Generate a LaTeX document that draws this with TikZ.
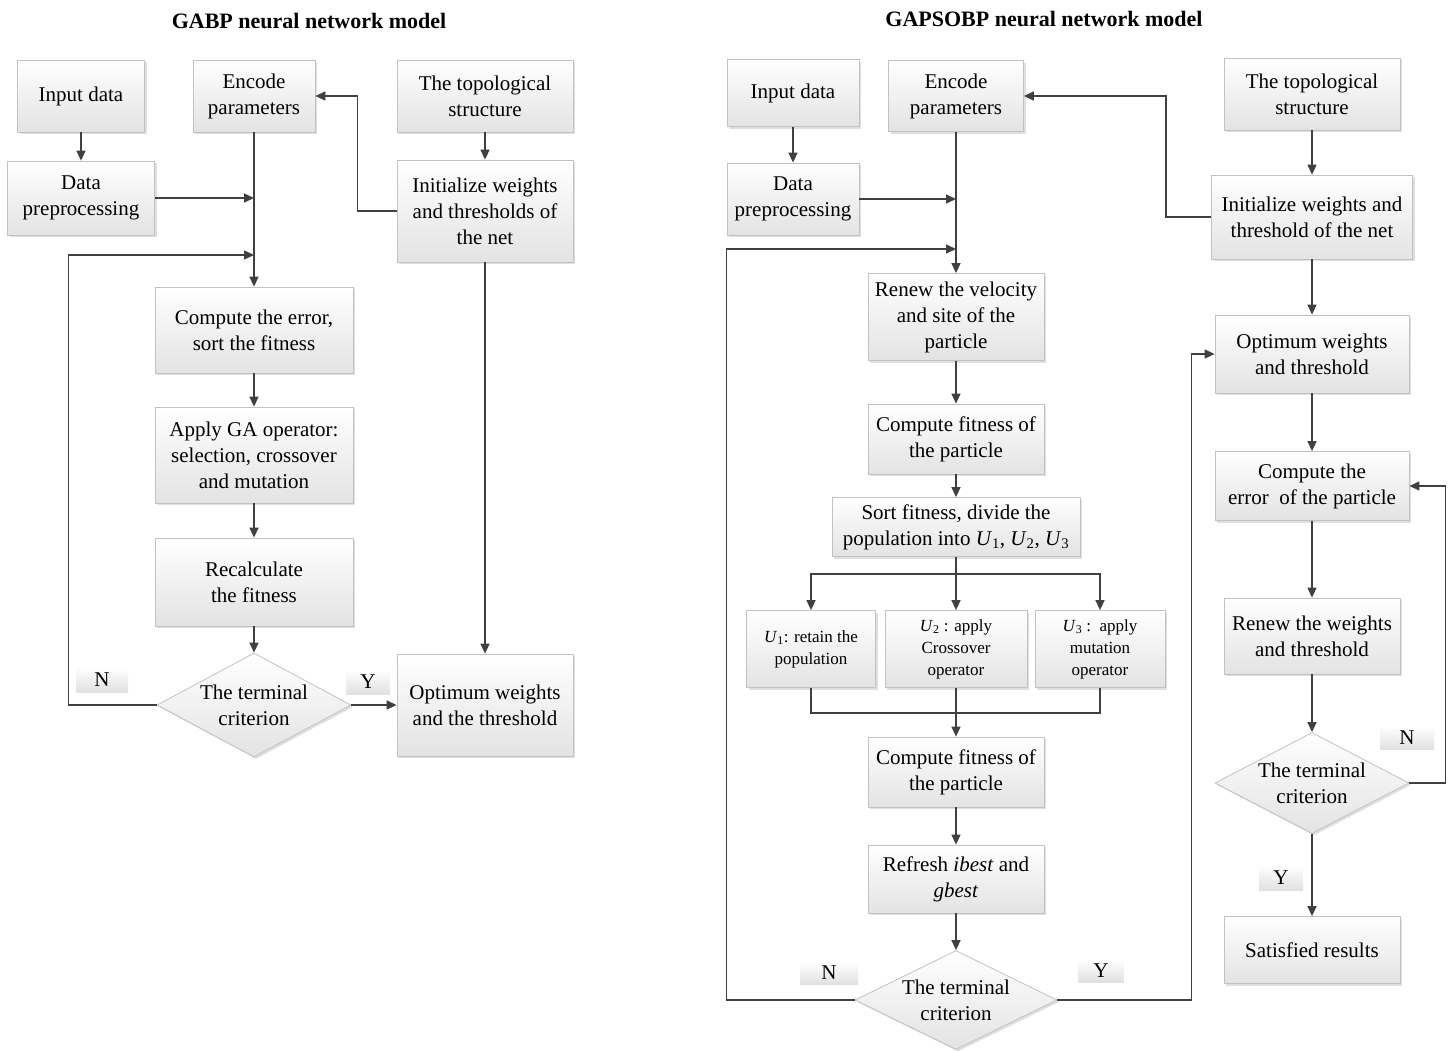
\documentclass[tikz,border=0pt]{standalone}
\usepackage{fontspec}
\setmainfont{Liberation Serif}
\usetikzlibrary{arrows.meta,shapes.geometric,shadows}
\definecolor{wire}{HTML}{404040}
\definecolor{rim}{HTML}{C2C2C2}

\begin{document}
\begin{tikzpicture}[
    x=1pt, y=-1pt,
    font=\fontsize{21}{26}\selectfont,
    box/.style={rectangle, draw=rim, line width=0.8pt,
                top color=white, bottom color=black!11,
                drop shadow={shadow xshift=2pt, shadow yshift=-2pt, fill=black!25, opacity=0.5},
                align=center, inner sep=2pt},
    dia/.style={diamond, draw=rim, line width=0.8pt,
                top color=white, bottom color=black!11,
                drop shadow={shadow xshift=2pt, shadow yshift=-2pt, fill=black!25, opacity=0.5},
                shape aspect=1.9, inner sep=-4pt, align=center},
    sz/.style 2 args={minimum width=#1pt, minimum height=#2pt},
    tag/.style={rectangle, top color=white, bottom color=black!12, inner sep=0pt},
    smalltext/.style={font=\fontsize{17}{22}\selectfont},
    title/.style={font=\fontsize{22}{26}\selectfont\bfseries},
    link/.style={wire, line width=1.5pt},
    flow/.style={-{Triangle[length=10pt,width=9pt]}, wire, line width=1.5pt},
]
\useasboundingbox (0,0) rectangle (1453,1050);

% ---- Panel A: GABP ----
\begin{scope}
    \node[title] (tA) at (309,21) {GABP neural network model};
    \node[box, sz={127}{72}] (in1) at (81,96) {Input data};
    \node[box, sz={122}{72}] (enc1) at (254,96) {Encode\\parameters};
    \node[box, sz={176}{72}] (top1) at (485,96) {The topological\\structure};
    \node[box, sz={147}{74}] (pre1) at (81,198) {Data\\preprocessing};
    \node[box, sz={176}{102}] (ini1) at (485,211) {Initialize weights\\and thresholds of\\the net};
    \node[box, sz={198}{86}] (err1) at (254,330) {Compute the error,\\sort the fitness};
    \node[box, sz={198}{96}] (ga1) at (254,455) {Apply GA operator:\\selection, crossover\\and mutation};
    \node[box, sz={198}{88}] (rec1) at (254,582) {Recalculate\\the fitness};
    \node[dia, sz={194}{104}] (end1) at (254,705) {The terminal\\criterion};
    \node[box, sz={176}{102}] (opt1) at (485,705) {Optimum weights\\and the threshold};
    \node[tag, sz={52}{25}] (n1) at (102,680) {N};
    \node[tag, sz={44}{24}] (y1) at (368,682) {Y};
    \coordinate (j1) at (254,255);
    \draw[flow] (in1) -- (pre1);
    \draw[flow] (enc1) -- (err1);
    \draw[flow] (pre1.east) -- (pre1.east -| enc1.south);
    \draw[flow] (end1.west) -- ++(-88,0) |- (j1);
    \draw[flow] (ini1.west) -- ++(-39,0) |- (enc1.east);
    \draw[flow] (top1) -- (ini1);
    \draw[flow] (ini1) -- (opt1);
    \draw[flow] (err1) -- (ga1);
    \draw[flow] (ga1) -- (rec1);
    \draw[flow] (rec1) -- (end1);
    \draw[flow] (end1) -- (opt1);
\end{scope}

% ---- Panel B: GAPSOBP ----
\begin{scope}
    \node[title] (tB) at (1044,19) {GAPSOBP neural network model};
    \node[box, sz={132}{67}] (in2) at (793,93) {Input data};
    \node[box, sz={135}{71}] (enc2) at (956,96) {Encode\\parameters};
    \node[box, sz={176}{72}] (top2) at (1312,94) {The topological\\structure};
    \node[box, sz={132}{72}] (pre2) at (793,199) {Data\\preprocessing};
    \node[box, sz={201}{84}] (ini2) at (1312,217) {Initialize weights and\\threshold of the net};
    \node[box, sz={176}{87}] (vel) at (956,317) {Renew the velocity\\and site of the\\particle};
    \node[box, sz={176}{70}] (fit2) at (956,439) {Compute fitness of\\the particle};
    \node[box, sz={248}{59}] (srt) at (956,527)
        {Sort fitness, divide the\\population into \textit{U}\textsubscript{1}, \textit{U}\textsubscript{2}, \textit{U}\textsubscript{3}};
    \node[box, smalltext, sz={129}{77}] (u1) at (811,649) {\textit{U}\textsubscript{1}: retain the\\population};
    \node[box, smalltext, sz={142}{77}] (u2) at (956,649) {\textit{U}\textsubscript{2} : apply\\Crossover\\operator};
    \node[box, smalltext, sz={130}{77}] (u3) at (1100,649) {\textit{U}\textsubscript{3} :\ \ apply\\mutation\\operator};
    \node[box, sz={176}{70}] (fit3) at (956,772) {Compute fitness of\\the particle};
    \node[box, sz={176}{68}] (ref) at (956,879) {Refresh \textit{ibest} and\\\textit{gbest}};
    \node[dia, sz={202}{99}] (end2) at (956,1000) {The terminal\\criterion};
    \node[tag, sz={58}{23}] (n2) at (829,973) {N};
    \node[tag, sz={46}{23}] (y2) at (1101,971) {Y};
    \node[box, sz={194}{78}] (opt2) at (1312,354) {Optimum weights\\and threshold};
    \node[box, sz={194}{69}] (err2) at (1312,486) {Compute the\\error~ of the particle};
    \node[box, sz={176}{76}] (upd) at (1312,636) {Renew the weights\\and threshold};
    \node[dia, sz={194}{101}] (end3) at (1312,783) {The terminal\\criterion};
    \node[tag, sz={54}{23}] (n3) at (1407,738) {N};
    \node[tag, sz={44}{25}] (y3) at (1281,878) {Y};
    \node[box, sz={176}{67}] (sat) at (1312,950) {Satisfied results};
    \coordinate (j2) at (956,249);
    \coordinate (sp) at (956,574);
    \coordinate (mg) at (956,713);
    \draw[flow] (in2) -- (pre2);
    \draw[flow] (enc2) -- (vel);
    \draw[flow] (pre2.east) -- (pre2.east -| enc2.south);
    \draw[flow] (end2.west) -- ++(-128,0) |- (j2);
    \draw[flow] (ini2.west) -- ++(-45,0) |- (enc2.east);
    \draw[flow] (top2) -- (ini2);
    \draw[flow] (ini2) -- (opt2);
    \draw[flow] (opt2) -- (err2);
    \draw[flow] (err2) -- (upd);
    \draw[flow] (upd) -- (end3);
    \draw[flow] (end3) -- (sat);
    \draw[flow] (end3.east) -- ++(36,0) |- (err2.east);
    \draw[flow] (end2.east) -- ++(134,0) |- (opt2.west);
    \draw[flow] (vel) -- (fit2);
    \draw[flow] (fit2) -- (srt);
    \draw[link] (srt) -- (sp);
    \draw[flow] (sp) -| (u1.north);
    \draw[flow] (sp) -- (u2);
    \draw[flow] (sp) -| (u3.north);
    \draw[link] (u1.south) |- (mg) -| (u3.south);
    \draw[link] (u2) -- (mg);
    \draw[flow] (mg) -- (fit3);
    \draw[flow] (fit3) -- (ref);
    \draw[flow] (ref) -- (end2);
\end{scope}
\end{tikzpicture}
\end{document}
